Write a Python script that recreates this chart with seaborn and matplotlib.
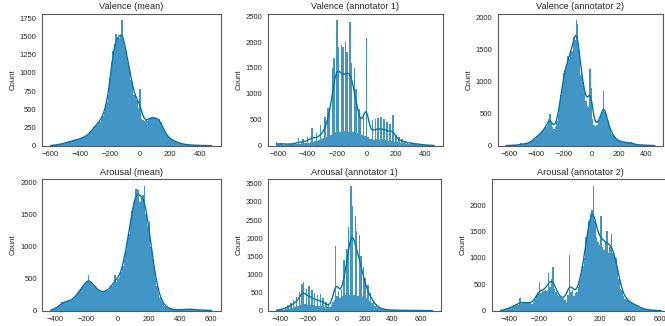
import numpy as np
import matplotlib
matplotlib.use("Agg")
import matplotlib.pyplot as plt
import seaborn as sns

# ---------------- data (bin counts) ----------------
titles = ["Valence (mean)", "Valence (annotator 1)", "Valence (annotator 2)",
          "Arousal (mean)", "Arousal (annotator 1)", "Arousal (annotator 2)"]

val_mean_range = (-605, 485)
val_mean_counts = [3,
    4, 6, 9, 12, 14, 20, 22, 28, 30, 40,
    48, 52, 60, 55, 72, 70, 85, 80, 92, 100,
    100, 115, 120, 135, 150, 170, 185, 215, 250, 290,
    290, 310, 330, 370, 410, 460, 520, 600, 700, 930,
    1150, 1300, 1400, 1530, 1460, 1480, 1500, 1720, 1450, 1350,
    1250, 1150, 1050, 900, 820, 700, 680, 620, 520, 780,
    360, 350, 340, 360, 340, 370, 380, 400, 390, 380,
    380, 370, 360, 330, 260, 210, 170, 140, 120, 100,
    85, 75, 65, 55, 45, 40, 33, 28, 22, 18,
    15, 13, 11, 10, 8, 7, 6, 5, 5, 4,
    4, 3, 3, 2, 2, 2, 1, 1]

val_a1_range = (-615, 465)
val_a1_counts = [
    80, 30, 25, 60, 25, 20, 50, 20, 20, 45,
    25, 25, 60, 30, 30, 140, 40, 45, 120, 50,
    55, 160, 60, 70, 340, 80, 90, 250, 100, 110,
    390, 130, 150, 550, 170, 720, 700, 200, 1500, 1700,
    260, 2420, 1900, 270, 1950, 1900, 280, 2000, 1800, 270,
    2380, 1600, 260, 1500, 1100, 240, 700, 520, 200, 600,
    180, 2080, 160, 120, 130, 500, 110, 520, 120, 530,
    110, 545, 120, 520, 110, 460, 100, 420, 90, 600,
    80, 200, 70, 160, 60, 120, 50, 100, 40, 80,
    35, 70, 30, 55, 25, 45, 20, 35, 15, 25,
    12, 18, 10, 12, 8, 8, 5, 5]

val_a2_range = (-625, 465)
val_a2_counts = [
    2, 3, 3, 4, 5, 6, 6, 8, 10, 12,
    14, 40, 18, 22, 30, 35, 40, 50, 60, 75,
    90, 110, 140, 150, 170, 190, 210, 240, 260, 300,
    330, 420, 500, 360, 300, 260, 300, 390, 500, 620,
    800, 950, 1130, 1180, 1250, 1400, 1350, 1500, 1480, 1700,
    1650, 1960, 1900, 1500, 1100, 1150, 1000, 850, 700, 620,
    600, 1200, 900, 420, 330, 300, 320, 380, 400, 480,
    520, 850, 520, 430, 380, 290, 240, 180, 150, 120,
    100, 85, 75, 70, 65, 60, 55, 50, 45, 40,
    45, 60, 30, 25, 20, 17, 15, 13, 11, 10,
    9, 8, 7, 6, 5, 4, 3, 3, 2]

aro_mean_range = (-430, 610)
aro_mean_counts = [
    15, 20, 25, 35, 50, 70, 100, 130, 140, 135,
    150, 145, 150, 160, 190, 205, 230, 260, 300, 340,
    380, 400, 430, 460, 550, 470, 440, 400, 380, 350,
    320, 300, 290, 285, 295, 300, 310, 330, 360, 380,
    420, 560, 450, 500, 520, 600, 700, 800, 950, 1100,
    1200, 1400, 1550, 1700, 1900, 1890, 1880, 1700, 1750, 1800,
    1950, 1500, 1320, 1400, 1000, 800, 700, 500, 380, 280,
    200, 150, 100, 80, 55, 40, 30, 25, 20, 18,
    15, 15, 14, 16, 18, 20, 22, 26, 24, 25,
    25, 22, 18, 14, 12, 10, 10, 9, 8, 8,
    7, 6, 5, 5]

aro_a1_range = (-430, 690)
aro_a1_counts = [
    30, 15, 40, 20, 60, 25, 100, 40, 150, 60,
    200, 80, 300, 110, 390, 130, 525, 150, 740, 780,
    180, 590, 170, 680, 160, 560, 150, 480, 140, 420,
    130, 450, 120, 350, 110, 250, 100, 180, 90, 150,
    250, 300, 1790, 400, 550, 350, 600, 400, 1400, 420,
    1700, 2300, 420, 3450, 2900, 420, 2600, 2200, 400, 2100,
    1500, 380, 1200, 900, 350, 700, 280, 500, 200, 300,
    130, 180, 80, 100, 50, 60, 35, 40, 25, 30,
    20, 22, 15, 18, 12, 15, 10, 12, 10, 14,
    8, 12, 20, 10, 12, 8, 10, 6, 8, 5,
    7, 5, 6, 4, 5, 3, 4, 3, 3, 2,
    3, 2]

aro_a2_range = (-465, 615)
aro_a2_counts = [
    5, 8, 12, 20, 30, 45, 60, 50, 80, 100,
    95, 125, 110, 240, 130, 150, 160, 140, 150, 155,
    140, 130, 170, 220, 280, 320, 550, 330, 370, 380,
    400, 380, 710, 450, 600, 830, 420, 350, 300, 280,
    250, 240, 230, 200, 160, 300, 1050, 350, 400, 280,
    330, 350, 450, 600, 700, 850, 1000, 1400, 1500, 1700,
    1850, 1900, 2370, 1700, 1400, 1300, 1250, 1800, 1200, 1150,
    1300, 1500, 1100, 1200, 1450, 1100, 1050, 1000, 800, 600,
    420, 400, 280, 220, 210, 200, 170, 150, 130, 120,
    110, 100, 80, 60, 45, 35, 28, 22, 18, 15,
    12, 10, 8, 6, 5, 4, 3, 2]

valence_xticks = [-600, -400, -200, 0, 200, 400]
arousal_xticks = [-400, -200, 0, 200, 400, 600]
yticks_list = [
    [0, 250, 500, 750, 1000, 1250, 1500, 1750],
    [0, 500, 1000, 1500, 2000, 2500],
    [0, 500, 1000, 1500, 2000],
    [0, 500, 1000, 1500, 2000],
    [0, 500, 1000, 1500, 2000, 2500, 3000, 3500],
    [0, 500, 1000, 1500, 2000],
]

# ---------------- style ----------------
sns.set_style("white")
plt.rcParams['font.family'] = ['Liberation Sans', 'DejaVu Sans']
color = sns.color_palette("colorblind")[0]

W, H = 665, 326
fig = plt.figure(figsize=(W / 100, H / 100), dpi=100)


def box(l, r, t, b):
    return [l / W, 1 - b / H, (r - l) / W, (b - t) / H]


boxes = [box(41.7, 220.5, 14, 145.7), box(267.7, 443, 14, 145.7), box(497.7, 663, 14, 145.7),
         box(42.3, 220.5, 179.3, 310.7), box(268.3, 441, 179.3, 310.7), box(491.7, 670, 179.3, 310.7)]

panels = [
    (val_mean_range, val_mean_counts, valence_xticks),
    (val_a1_range, val_a1_counts, valence_xticks),
    (val_a2_range, val_a2_counts, valence_xticks),
    (aro_mean_range, aro_mean_counts, arousal_xticks),
    (aro_a1_range, aro_a1_counts, arousal_xticks),
    (aro_a2_range, aro_a2_counts, arousal_xticks),
]

for i, ((lo, hi), counts, xt) in enumerate(panels):
    ax = fig.add_axes(boxes[i])
    counts = np.asarray(counts, dtype=float)
    nb = len(counts)
    edges = np.linspace(lo, hi, nb + 1)
    centers = (edges[:-1] + edges[1:]) / 2
    n = counts.sum()
    neff = n ** 2 / (counts ** 2).sum()
    bw = (neff / n) ** 0.2
    sns.histplot(x=centers, weights=counts, bins=nb, binrange=(lo, hi), kde=True,
                 color=color, ax=ax, kde_kws={"bw_adjust": bw},
                 line_kws={"linewidth": 1.0}, linewidth=0, alpha=0.75)
    ax.set_xticks(xt)
    ax.set_yticks(yticks_list[i])
    ax.tick_params(axis="both", length=0, pad=4, labelsize=5.5, colors=".15")
    ax.set_title(titles[i], fontsize=6.6, pad=3.3, color=".15")
    ax.set_ylabel("Count", fontsize=5.6, labelpad=2.2, color=".15")
    ax.set_xlabel("")
    for s in ax.spines.values():
        s.set_linewidth(0.8)
        s.set_color(".35")

fig.savefig("out.png", dpi=100)
